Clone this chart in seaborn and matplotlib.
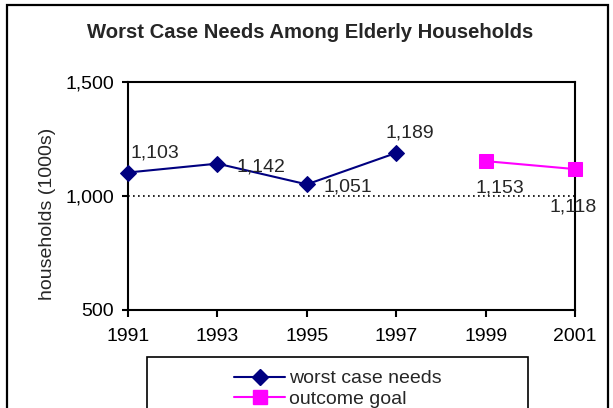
import matplotlib
matplotlib.use("Agg")
import matplotlib.pyplot as plt
import seaborn as sns
import pandas as pd
from matplotlib.patches import Rectangle
from matplotlib.lines import Line2D

# Data
needs_years = [1991, 1993, 1995, 1997]
needs_values = [1103, 1142, 1051, 1189]
goal_years = [1999, 2001]
goal_values = [1153, 1118]
x_ticks = [1991, 1993, 1995, 1997, 1999, 2001]
y_ticks = [500, 1000, 1500]
title = "Worst Case Needs Among Elderly Households"
y_label = "households (1000s)"
series_names = ["worst case needs", "outcome goal"]

sns.set_style("white")
plt.rcParams['font.family'] = ['Liberation Sans', 'DejaVu Sans']

W, H = 613, 408
fig = plt.figure(figsize=(W / 100, H / 100), dpi=100)
ax = fig.add_axes([128 / W, 1 - 310 / H, (575 - 128) / W, (310 - 82) / H])

df_needs = pd.DataFrame({"year": needs_years, "value": needs_values})
df_goal = pd.DataFrame({"year": goal_years, "value": goal_values})

navy = "#000080"
magenta = "#FF00FF"

ax.axhline(1000, color="black", linestyle=(0, (1, 2)), linewidth=1.2, zorder=1)

sns.lineplot(data=df_needs, x="year", y="value", ax=ax, color=navy, marker="D",
             markersize=8, markeredgecolor=navy, linewidth=1.5, clip_on=False, zorder=3)
sns.lineplot(data=df_goal, x="year", y="value", ax=ax, color=magenta, marker="s",
             markersize=10, markeredgecolor=magenta, linewidth=1.5, clip_on=False, zorder=3)

ax.set_xlim(1991, 2001)
ax.set_ylim(500, 1500)
ax.set_xticks(x_ticks)
ax.set_xticklabels([str(v) for v in x_ticks])
ax.set_yticks(y_ticks)
ax.set_yticklabels([f"{v:,}" for v in y_ticks])
ax.set_xlabel("")
ax.set_ylabel(y_label, fontsize=14)
ax.yaxis.set_label_coords(-0.161, 0.42)

for s in ax.spines.values():
    s.set_color("black")
    s.set_linewidth(1.5)
    s.set_visible(True)

ax.tick_params(axis="x", direction="out", length=5, width=1.5, pad=8, labelsize=14, colors="black", bottom=True)
ax.tick_params(axis="y", direction="out", length=4, width=1.5, pad=6, labelsize=14, colors="black", left=True)

# data labels (offsets in pixels)
offsets_needs = [(2, 20, "left"), (19, -3, "left"), (17, -3, "left"), (14, 20, "center")]
for (xv, yv), (dx, dy, ha) in zip(zip(needs_years, needs_values), offsets_needs):
    ax.annotate(f"{yv:,}", (xv, yv), xytext=(dx, dy), textcoords="offset pixels",
                ha=ha, va="center", fontsize=14, annotation_clip=False, zorder=4)
offsets_goal = [(14, -27, "center"), (-2, -38, "center")]
for (xv, yv), (dx, dy, ha) in zip(zip(goal_years, goal_values), offsets_goal):
    ax.annotate(f"{yv:,}", (xv, yv), xytext=(dx, dy), textcoords="offset pixels",
                ha=ha, va="center", fontsize=14, annotation_clip=False, zorder=4)

fig.text(310 / W, 1 - 32 / H, title, ha="center", va="center", fontsize=14.6, fontweight="bold")

# outer frame
fig.patches.append(Rectangle((7 / W, -0.1), (608 - 7) / W, 1 - 5 / H + 0.1,
                             transform=fig.transFigure, fill=False, edgecolor="black", linewidth=1.6))
# legend box
fig.patches.append(Rectangle((147 / W, -0.1), (528 - 147) / W, 1 - 357 / H + 0.1,
                             transform=fig.transFigure, fill=False, edgecolor="black", linewidth=1.2))

handles = [
    Line2D([], [], color=navy, marker="D", markersize=8, linewidth=1.5),
    Line2D([], [], color=magenta, marker="s", markersize=10, linewidth=1.5),
]
leg = fig.legend(handles, series_names, loc="upper center", bbox_to_anchor=(338 / W, 1 - 360 / H),
                 frameon=False, fontsize=14, handlelength=2.6, handletextpad=0.2, labelspacing=0.15,
                 borderpad=0)

fig.savefig("out.png", dpi=100)
